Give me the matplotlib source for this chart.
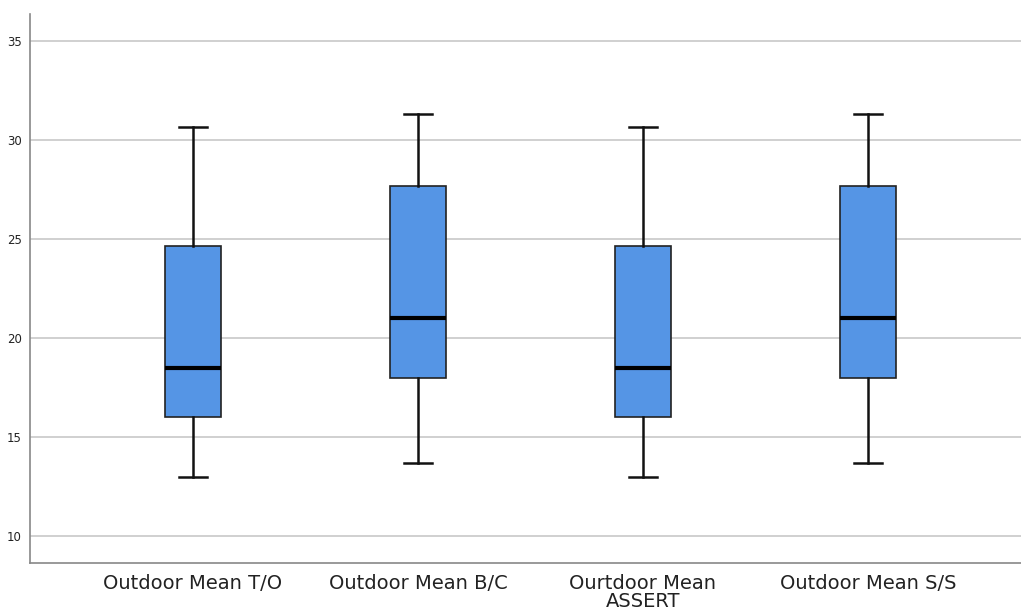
import matplotlib.pyplot as plt

# box plot summary values
labels = ['Outdoor Mean T/O', 'Outdoor Mean B/C', 'Ourtdoor Mean\nASSERT', 'Outdoor Mean S/S']
whisker_low = [13.0, 13.67, 13.0, 13.67]
q1 = [16.0, 18.0, 16.0, 18.0]
medians = [18.5, 21.0, 18.5, 21.0]
q3 = [24.67, 27.67, 24.67, 27.67]
whisker_high = [30.67, 31.33, 30.67, 31.33]

stats = []
for lab, lo, a, m, b, hi in zip(labels, whisker_low, q1, medians, q3, whisker_high):
    stats.append({'label': lab, 'whislo': lo, 'q1': a, 'med': m, 'q3': b,
                  'whishi': hi, 'fliers': []})

fig = plt.figure(figsize=(10.21, 6.09), dpi=100)
ax = fig.add_axes([30/1021, 1 - 563/609, 1 - 30/1021, (563 - 14)/609])

ax.bxp(stats, positions=[1, 2, 3, 4], widths=0.25, capwidths=0.125,
       patch_artist=True, showfliers=False,
       boxprops=dict(facecolor='#5595e5', edgecolor='#222222', linewidth=1.2),
       whiskerprops=dict(color='#111111', linewidth=1.8),
       capprops=dict(color='#111111', linewidth=1.8),
       medianprops=dict(color='black', linewidth=3),
       zorder=3)

ax.set_xlim(0.276, 4.68)
ax.set_ylim(8.64, 36.36)
ax.set_yticks([10, 15, 20, 25, 30, 35])
ax.yaxis.grid(True, color='#c4c4c4', linewidth=1.1, zorder=0)
ax.set_axisbelow(True)

for s in ['top', 'right']:
    ax.spines[s].set_visible(False)
for s in ['left', 'bottom']:
    ax.spines[s].set_color('#888888')
    ax.spines[s].set_linewidth(1.2)

ax.tick_params(axis='both', length=0, colors='#222222')
ax.tick_params(axis='y', labelsize=8.5, pad=6)
ax.tick_params(axis='x', labelsize=14, pad=8)
for t in ax.get_xticklabels():
    t.set_linespacing(0.9)

fig.savefig('out.png', dpi=100)
